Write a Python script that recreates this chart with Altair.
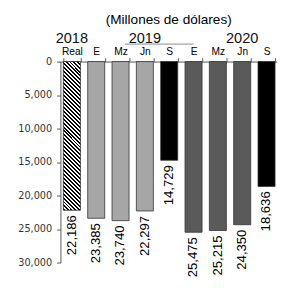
import altair as alt
import pandas as pd

categories = ["Real", "2019-E", "2019-Mz", "2019-Jn", "2019-S",
              "2020-E", "2020-Mz", "2020-Jn", "2020-S"]
values = [22186, 23385, 23740, 22297, 14729, 25475, 25215, 24350, 18636]
groups = ["real", "p19", "p19", "p19", "sep", "p20", "p20", "p20", "sep"]

years = ["2018", "2019", "2020"]
year_anchor = ["Real", "2019-Jn", "2020-Jn"]

df = pd.DataFrame({"cat": categories, "val": values, "grp": groups})
ydf = pd.DataFrame({"year": years, "cat": year_anchor})

FONT = "Liberation Sans"

# diagonal hatch gradient for the "Real" bar
r = 8.7
k = (1 + r) / (1 + r * r)
N = 42
stops = []
for i in range(N):
    stops.append({"offset": i / N, "color": "#000000"})
    stops.append({"offset": (i + 0.5) / N, "color": "#000000"})
    stops.append({"offset": (i + 0.5) / N, "color": "#ffffff"})
    stops.append({"offset": (i + 1) / N, "color": "#ffffff"})
hatch = {"gradient": "linear", "x1": 0, "y1": 1, "x2": k, "y2": 1 - k * r,
         "stops": stops}

xscale = alt.Scale(domain=categories, range=[0, 224],
                   paddingInner=0.3, paddingOuter=0.12)
yscale = alt.Scale(domain=[0, 30000], reverse=True, nice=False)

xenc = alt.X("cat:N", scale=xscale, sort=categories,
             axis=alt.Axis(orient="top", title=None, labelAngle=0,
                           labelExpr="indexof(datum.label,'-')>=0 ? split(datum.label,'-')[1] : datum.label",
                           tickBand="extent", tickSize=4, labelPadding=1,
                           labelFont=FONT, labelFontSize=10.5, labelColor="#000",
                           domainColor="#555", tickColor="#555"))
yenc = alt.Y("val:Q", scale=yscale,
             axis=alt.Axis(title=None, values=[0, 5000, 10000, 15000, 20000, 25000, 30000],
                           labelExpr="format(datum.value, ',')", grid=False,
                           tickSize=4, labelPadding=5,
                           labelFont="DejaVu Sans", labelFontSize=10, labelColor="#333",
                           domainColor="#555", tickColor="#555"))

base = alt.Chart(df)

bars_real = base.transform_filter(alt.datum.grp == "real").mark_bar(
    fill=hatch, stroke="#222", strokeWidth=0.8
).encode(x=xenc, y=yenc)

bars_other = base.transform_filter(alt.datum.grp != "real").mark_bar(
    stroke="#333", strokeWidth=0.8
).encode(
    x=xenc, y=yenc,
    color=alt.Color("grp:N", scale=alt.Scale(domain=["p19", "sep", "p20"],
                                             range=["#a6a6a6", "#000000", "#5a5a5a"]),
                    legend=None),
)

labels = base.mark_text(angle=270, align="right", baseline="middle", dx=-5,
                        font=FONT, fontSize=13.5, color="#000").encode(
    x=xenc, y=yenc, text=alt.Text("val:Q", format=",")
)

year_text = alt.Chart(ydf).mark_text(font=FONT, fontSize=15, baseline="alphabetic",
                                     color="#111").encode(
    x=alt.X("cat:N", scale=xscale, sort=categories),
    y=alt.value(-19),
    text="year:N",
)

bracket = alt.Chart(pd.DataFrame({"a": ["2019-Mz"], "b": ["2020-E"]})).mark_rule(
    color="#888", strokeWidth=1
).encode(
    x=alt.X("a:N", scale=xscale, sort=categories, bandPosition=0.75),
    x2=alt.X2("b:N"),
    y=alt.value(-18),
)

chart = alt.layer(bars_real, bars_other, labels, year_text, bracket).properties(
    width=223, height=207,
    autosize=alt.AutoSizeParams(type="none"),
    padding={"left": 54, "top": 51, "right": 0, "bottom": 22},
    title=alt.TitleParams("(Millones de dólares)", font=FONT, fontSize=14,
                          fontWeight="normal", color="#000", anchor="middle", offset=5),
).configure_view(stroke=None)

chart.save("out.html", embed_options={"renderer": "svg", "actions": False})
